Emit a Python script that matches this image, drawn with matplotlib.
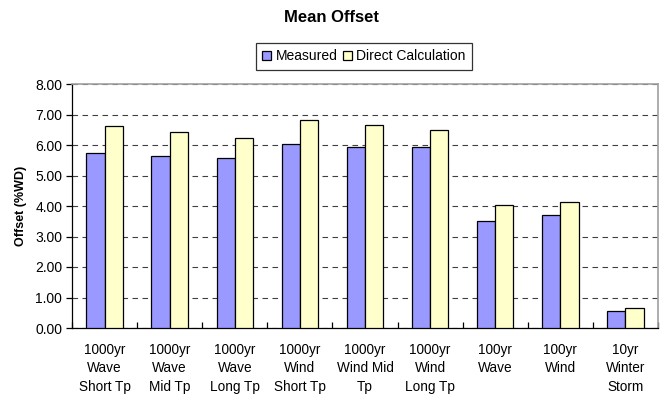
import matplotlib
matplotlib.use('Agg')
import matplotlib.pyplot as plt
import numpy as np

plt.rcParams['font.family'] = ['Liberation Sans', 'DejaVu Sans']

categories = ['1000yr\nWave\nShort Tp', '1000yr\nWave\nMid Tp', '1000yr\nWave\nLong Tp',
              '1000yr\nWind\nShort Tp', '1000yr\nWind Mid\nTp', '1000yr\nWind\nLong Tp',
              '100yr\nWave', '100yr\nWind', '10yr\nWinter\nStorm']
measured = [5.75, 5.64, 5.57, 6.02, 5.92, 5.92, 3.50, 3.70, 0.57]
direct_calc = [6.62, 6.42, 6.24, 6.83, 6.65, 6.48, 4.02, 4.14, 0.65]
yticks = [0, 1, 2, 3, 4, 5, 6, 7, 8]

fig = plt.figure(figsize=(6.68, 3.94), dpi=100)
ax = fig.add_axes([72 / 668, 1 - 328 / 394, 586 / 668, 244 / 394])

x = np.arange(len(categories))
w = 0.28
b1 = ax.bar(x - w / 2, measured, w, color='#9999FF', edgecolor='black',
            linewidth=0.9, label='Measured', zorder=3)
b2 = ax.bar(x + w / 2, direct_calc, w, color='#FFFFCC', edgecolor='black',
            linewidth=0.9, label='Direct Calculation', zorder=3)

ax.set_xlim(-0.5, len(categories) - 0.5)
ax.set_ylim(0, 8)
ax.set_yticks(yticks)
ax.set_yticklabels(['{:.2f}'.format(v) for v in yticks], fontsize=10)
ax.yaxis.grid(True, color='#404040', linestyle=(0, (5, 4)), linewidth=0.8, zorder=0)
ax.set_axisbelow(True)

ax.set_xticks(x)
ax.set_xticklabels(categories, fontsize=9.8, linespacing=1.38)
ax.set_xticks(np.arange(-0.5, len(categories)), minor=True)
ax.tick_params(axis='x', which='major', length=0, pad=11)
ax.tick_params(axis='x', which='minor', direction='in', length=4, width=0.9)
ax.tick_params(axis='y', direction='out', length=4, width=0.9, pad=3)

for side in ('top', 'right'):
    ax.spines[side].set_color('#A0A0A0')
    ax.spines[side].set_linewidth(1.2)
for side in ('left', 'bottom'):
    ax.spines[side].set_color('black')
    ax.spines[side].set_linewidth(0.9)

ax.set_ylabel('Offset (%WD)', fontsize=9, fontweight='bold', labelpad=6)

fig.text(0.497, 1 - 17 / 394, 'Mean Offset', ha='center', va='center',
         fontsize=12, fontweight='bold')

leg = fig.legend(handles=[b1, b2], loc='center', bbox_to_anchor=(364 / 668, 1 - 56.5 / 394),
                 ncol=2, fontsize=10, frameon=True, fancybox=False,
                 handlelength=0.65, handleheight=0.65, handletextpad=0.3,
                 columnspacing=0.4, borderpad=0.45, borderaxespad=0)
leg.get_frame().set_edgecolor('black')
leg.get_frame().set_linewidth(0.9)

fig.savefig('out.png', dpi=100)
